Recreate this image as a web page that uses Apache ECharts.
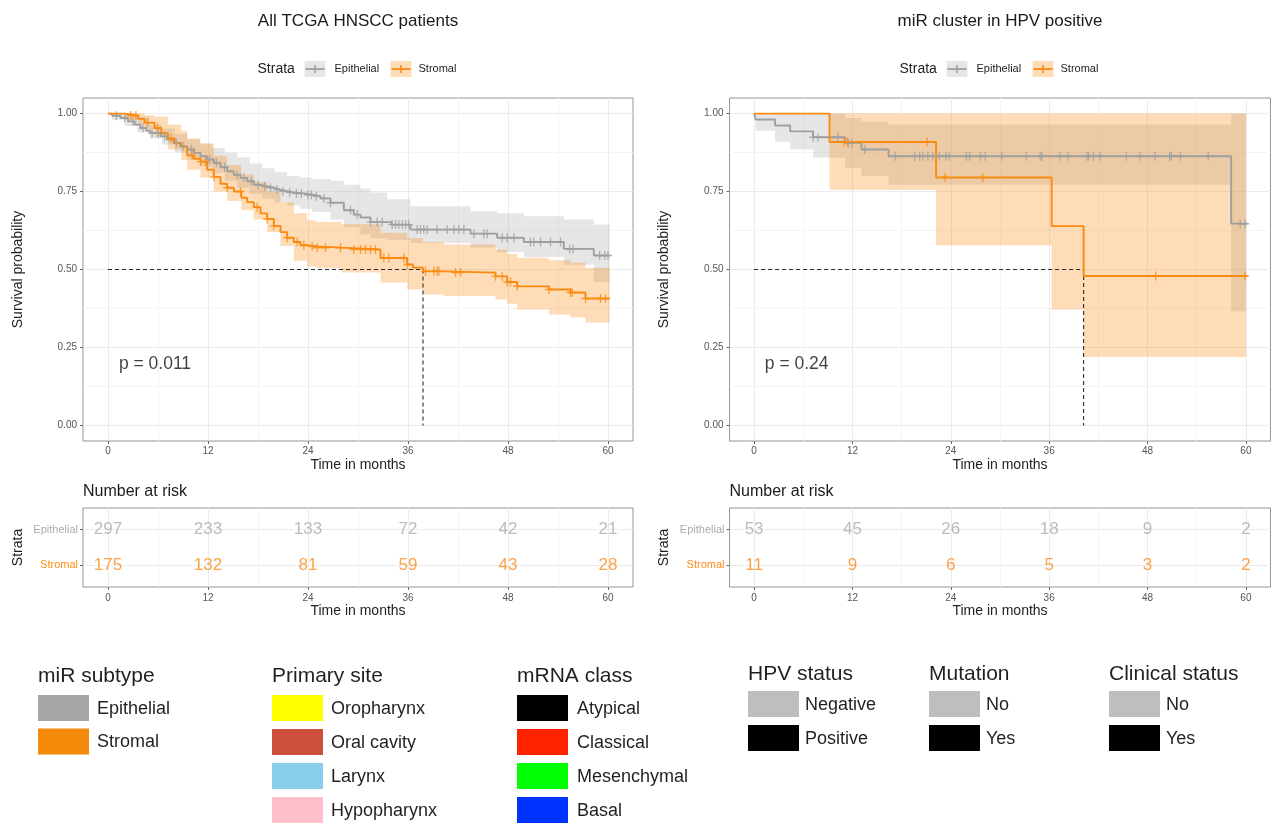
<!DOCTYPE html>
<html><head><meta charset="utf-8">
<script src="https://cdn.jsdelivr.net/npm/echarts@6/dist/echarts.min.js"></script>
<style>html,body{margin:0;padding:0;background:#fff}#c{width:1280px;height:823px}</style>
</head><body><div id="c"></div>
<script>
// ---------------- DATA ----------------
const timeTicks = [0, 12, 24, 36, 48, 60];
const minorTimeTicks = [6, 18, 30, 42, 54];
const survTicks = [0, 0.25, 0.5, 0.75, 1];
const minorSurvTicks = [0.125, 0.375, 0.625, 0.875];
const strata = ['Epithelial', 'Stromal'];
const panelTitles = ['All TCGA HNSCC patients', 'miR cluster in HPV positive'];
const pValues = ['p = 0.011', 'p = 0.24'];

// Panel 1: All TCGA HNSCC patients  [time, survival]
const epiCurveAll = [[0,1],[0.5,0.993],[1.5,0.986],[2.4,0.975],[3.2,0.965],[3.9,0.954],[4.6,0.945],[5.1,0.938],[6.3,0.927],[7.1,0.917],[7.9,0.906],[8.7,0.895],[9.5,0.885],[10.3,0.874],[11.1,0.863],[11.9,0.853],[12.7,0.842],[13.5,0.828],[14.3,0.815],[15.1,0.804],[15.9,0.794],[16.7,0.783],[17.5,0.772],[18.3,0.766],[19.1,0.762],[20.0,0.756],[20.7,0.751],[21.5,0.747],[22.3,0.744],[23.5,0.739],[24.7,0.735],[25.5,0.728],[26.7,0.714],[28.3,0.69],[29.5,0.676],[30.3,0.667],[31.5,0.652],[34.0,0.644],[36.3,0.628],[43.5,0.615],[46.7,0.602],[49.9,0.588],[54.7,0.566],[58.3,0.545],[60.2,0.545]];
// [time, lower, upper]
const epiBandAll = [[0,1,1],[0.5,0.98,1],[2.0,0.96,0.998],[3.5,0.94,0.99],[5.0,0.92,0.965],[6.5,0.9,0.952],[8.0,0.875,0.935],[9.5,0.852,0.918],[11.0,0.83,0.902],[12.5,0.81,0.89],[14.0,0.785,0.875],[15.5,0.762,0.86],[17.0,0.742,0.84],[18.5,0.727,0.825],[20.0,0.715,0.812],[21.5,0.705,0.8],[23.0,0.695,0.795],[24.5,0.685,0.79],[26.7,0.66,0.785],[28.3,0.635,0.772],[30.3,0.612,0.76],[31.5,0.6,0.747],[33.5,0.595,0.725],[36.3,0.585,0.703],[43.5,0.57,0.687],[46.7,0.555,0.68],[49.9,0.54,0.671],[54.7,0.515,0.66],[58.3,0.46,0.644],[60.2,0.46,0.644]];
const epiCensorAll = [1.0,2.0,3.0,4.2,5.3,6.0,6.8,8.2,9.0,10.0,12.2,13.0,14.0,15.5,16.3,17.2,18.0,18.8,19.5,20.3,21.0,21.8,22.6,23.2,24.0,24.4,25.0,25.9,26.7,29.1,29.9,31.5,32.3,32.9,34.1,34.5,34.9,35.3,35.7,36.1,37.1,37.5,37.9,38.3,39.5,40.7,41.5,42.1,42.7,43.9,45.1,45.5,47.3,47.9,48.7,50.7,51.1,51.9,53.1,54.3,55.4,55.8,59.0,59.6,60.0];
const stroCurveAll = [[0,1],[2.0,0.994],[3.6,0.983],[4.4,0.971],[5.6,0.954],[6.4,0.937],[7.2,0.92],[8.0,0.905],[8.8,0.894],[9.5,0.866],[10.3,0.855],[11.1,0.846],[11.9,0.82],[12.7,0.797],[13.5,0.775],[14.3,0.762],[15.1,0.75],[16.0,0.73],[16.7,0.716],[17.5,0.7],[18.3,0.68],[19.1,0.662],[19.9,0.64],[20.7,0.62],[21.5,0.602],[22.3,0.588],[23.1,0.578],[23.9,0.574],[25.0,0.57],[28.0,0.564],[32.7,0.537],[35.9,0.516],[36.6,0.506],[37.8,0.494],[40.3,0.49],[46.5,0.478],[47.9,0.46],[49.1,0.446],[52.9,0.436],[55.5,0.426],[57.3,0.407],[60.2,0.407]];
const stroBandAll = [[0,1,1],[2.0,0.98,1],[3.6,0.965,1],[4.4,0.95,0.995],[5.6,0.925,0.99],[7.2,0.885,0.965],[8.8,0.85,0.945],[9.5,0.82,0.92],[11.1,0.795,0.905],[12.7,0.75,0.865],[14.3,0.72,0.835],[16.0,0.69,0.805],[17.5,0.66,0.78],[19.1,0.62,0.75],[20.7,0.575,0.715],[22.3,0.528,0.68],[23.9,0.51,0.658],[25.0,0.505,0.652],[28.0,0.49,0.645],[32.7,0.458,0.618],[35.9,0.437,0.6],[37.8,0.42,0.588],[40.3,0.415,0.58],[46.5,0.404,0.564],[47.9,0.39,0.55],[49.1,0.372,0.538],[52.9,0.356,0.53],[55.5,0.346,0.522],[57.3,0.33,0.506],[60.2,0.33,0.506]];
const stroCensorAll = [2.75,3.35,4.75,5.95,7.55,10.1,11.1,11.7,12.7,14.3,15.9,17.9,19.1,19.9,21.5,22.7,23.5,24.5,25.1,26.1,27.9,29.5,30.3,30.9,31.5,32.1,33.1,33.7,35.5,35.9,38.1,39.1,39.5,39.7,41.7,42.3,46.5,47.3,47.9,48.3,49.1,52.9,55.5,55.7,57.3,59.1,59.7];
const medianAll = 37.8;
const riskEpiAll = [297, 233, 133, 72, 42, 21];
const riskStroAll = [175, 132, 81, 59, 43, 28];

// Panel 2: miR cluster in HPV positive
const epiCurveHpv = [[0,1],[0.2,0.981],[2.56,0.962],[4.4,0.943],[7.2,0.924],[11.1,0.906],[13.1,0.885],[16.4,0.863],[58.2,0.647],[60.2,0.647]];
const epiBandHpv = [[0,1,1],[0.2,0.945,1],[2.56,0.91,1],[4.4,0.885,1],[7.2,0.858,1],[11.1,0.826,0.986],[13.1,0.8,0.975],[16.4,0.772,0.965],[58.2,0.366,1],[60.0,0.366,1]];
const epiCensorHpv = [7.2,7.8,10.2,11.5,11.9,13.5,17.2,19.6,20.2,20.6,21.2,21.8,22.6,23.4,23.8,25.9,26.3,27.6,28.2,30.2,33.2,34.9,35.1,37.3,38.3,40.6,40.8,41.4,42.2,45.4,47.1,48.9,50.7,50.9,52.0,55.4,59.3,59.9];
const stroCurveHpv = [[0,1],[9.2,0.909],[22.2,0.795],[36.3,0.639],[40.2,0.479],[60.2,0.479]];
const stroBandHpv = [[0,1,1],[9.2,0.756,1],[22.2,0.578,1],[36.3,0.372,1],[40.2,0.219,1],[60.0,0.219,1]];
const stroCensorHpv = [11.0,11.4,21.1,23.3,27.9,49.0,59.9];
const medianHpv = 40.2;
const riskEpiHpv = [53, 45, 26, 18, 9, 2];
const riskStroHpv = [11, 9, 6, 5, 3, 2];

// Bottom annotation legends
const mirSubtypeLabels = ['Epithelial', 'Stromal'];
const mirSubtypeColors = ['#a6a6a6', '#f58a0b'];
const primarySiteLabels = ['Oropharynx', 'Oral cavity', 'Larynx', 'Hypopharynx'];
const primarySiteColors = ['#ffff00', '#cd4f3b', '#87ceeb', '#ffc0cb'];
const mrnaClassLabels = ['Atypical', 'Classical', 'Mesenchymal', 'Basal'];
const mrnaClassColors = ['#000000', '#ff2200', '#00ff00', '#0033ff'];
const hpvLabels = ['Negative', 'Positive'];
const hpvColors = ['#bebebe', '#000000'];
const mutationLabels = ['No', 'Yes'];
const mutationColors = ['#bebebe', '#000000'];
const clinicalLabels = ['No', 'Yes'];
const clinicalColors = ['#bebebe', '#000000'];

// ---------------- STYLE ----------------
const FONT = 'Liberation Sans, Arial, sans-serif';
const GRAY = '#9f9f9f', ORANGE = '#fa8b10';
const GRAY_BAND = 'rgba(173,173,173,0.3)', ORANGE_BAND = 'rgba(248,138,18,0.3)';
const RISK_GRAY = '#ababab', RISK_ORANGE = '#fb8c16';

function stepAt(curve, t) {
  let v = curve[0][1];
  for (const p of curve) { if (p[0] <= t) v = p[1]; else break; }
  return v;
}
const plusPath = 'path://M4.2,0H5.8V4.2H10V5.8H5.8V10H4.2V5.8H0V4.2H4.2Z';

function bandRenderer(band, fill) {
  return function (params, api) {
    if (params.dataIndex !== 0) return {type: 'group', children: []};
    const pts = [];
    for (let i = 0; i < band.length - 1; i++) {
      pts.push(api.coord([band[i][0], band[i][2]]));
      pts.push(api.coord([band[i + 1][0], band[i][2]]));
    }
    for (let i = band.length - 2; i >= 0; i--) {
      pts.push(api.coord([band[i + 1][0], band[i][1]]));
      pts.push(api.coord([band[i][0], band[i][1]]));
    }
    return {type: 'polygon', shape: {points: pts}, style: {fill: fill, stroke: null}};
  };
}

const panels = [
  {grid: {left: 83, top: 98, width: 550, height: 343}, rgrid: {left: 83, top: 508, width: 550, height: 79},
   epi: epiCurveAll, epiBand: epiBandAll, epiC: epiCensorAll, stro: stroCurveAll, stroBand: stroBandAll, stroC: stroCensorAll,
   median: medianAll, riskE: riskEpiAll, riskS: riskStroAll, p: pValues[0], title: panelTitles[0]},
  {grid: {left: 729.5, top: 98, width: 541, height: 343}, rgrid: {left: 729.5, top: 508, width: 541, height: 79},
   epi: epiCurveHpv, epiBand: epiBandHpv, epiC: epiCensorHpv, stro: stroCurveHpv, stroBand: stroBandHpv, stroC: stroCensorHpv,
   median: medianHpv, riskE: riskEpiHpv, riskS: riskStroHpv, p: pValues[1], title: panelTitles[1]}
];

const grids = [], xAxes = [], yAxes = [], series = [], graphics = [];
const axisLabelStyle = {color: '#555', fontSize: 10, fontFamily: FONT};
const noLine = {show: false, onZero: false};

panels.forEach((P, pi) => {
  const gKM = grids.length;
  grids.push(Object.assign({show: true, borderColor: '#949494', borderWidth: 1, containLabel: false}, P.grid));
  const gR = grids.length;
  grids.push(Object.assign({show: true, borderColor: '#949494', borderWidth: 1, containLabel: false}, P.rgrid));

  const xMain = xAxes.length;
  xAxes.push({type: 'value', gridIndex: gKM, position: 'bottom', min: -3, max: 63,
    axisLine: noLine, axisTick: {show: true, length: 3, customValues: timeTicks, lineStyle: {color: '#666'}},
    axisLabel: Object.assign({customValues: timeTicks, margin: 5}, axisLabelStyle),
    splitLine: {show: true, lineStyle: {color: '#ebebeb', width: 1}},
    name: 'Time in months', nameLocation: 'middle', nameGap: 17,
    nameTextStyle: {fontSize: 14, color: '#222', fontFamily: FONT, verticalAlign: 'top'}});
  xAxes.push({type: 'value', gridIndex: gKM, position: 'top', min: -3, max: 63,
    axisLine: noLine, axisTick: {show: false, customValues: minorTimeTicks}, axisLabel: {show: false, customValues: minorTimeTicks},
    splitLine: {show: true, lineStyle: {color: '#f5f5f5', width: 1}}});
  const xRisk = xAxes.length;
  xAxes.push({type: 'value', gridIndex: gR, position: 'bottom', min: -3, max: 63,
    axisLine: noLine, axisTick: {show: true, length: 3, customValues: timeTicks, lineStyle: {color: '#666'}},
    axisLabel: Object.assign({customValues: timeTicks, margin: 6}, axisLabelStyle),
    splitLine: {show: true, lineStyle: {color: '#ebebeb', width: 1}},
    name: 'Time in months', nameLocation: 'middle', nameGap: 17,
    nameTextStyle: {fontSize: 14, color: '#222', fontFamily: FONT, verticalAlign: 'top'}});
  xAxes.push({type: 'value', gridIndex: gR, position: 'top', min: -3, max: 63,
    axisLine: noLine, axisTick: {show: false, customValues: minorTimeTicks}, axisLabel: {show: false, customValues: minorTimeTicks},
    splitLine: {show: true, lineStyle: {color: '#f5f5f5', width: 1}}});

  const yMain = yAxes.length;
  yAxes.push({type: 'value', gridIndex: gKM, position: 'left', min: -0.05, max: 1.05,
    axisLine: noLine, axisTick: {show: true, length: 3, customValues: survTicks, lineStyle: {color: '#666'}},
    axisLabel: Object.assign({customValues: survTicks, margin: 6, formatter: v => Number(v).toFixed(2)}, axisLabelStyle),
    splitLine: {show: true, lineStyle: {color: '#ebebeb', width: 1}},
    name: 'Survival probability', nameLocation: 'middle', nameGap: 58,
    nameTextStyle: {fontSize: 14, color: '#222', fontFamily: FONT}});
  yAxes.push({type: 'value', gridIndex: gKM, position: 'right', min: -0.05, max: 1.05,
    axisLine: noLine, axisTick: {show: false, customValues: minorSurvTicks}, axisLabel: {show: false, customValues: minorSurvTicks},
    splitLine: {show: true, lineStyle: {color: '#f5f5f5', width: 1}}});
  const yRisk = yAxes.length;
  yAxes.push({type: 'value', gridIndex: gR, position: 'left', min: -0.6, max: 1.6,
    axisLine: noLine, axisTick: {show: true, length: 3, customValues: [0, 1], lineStyle: {color: '#666'}},
    axisLabel: {customValues: [0, 1], margin: 5, fontSize: 11, fontFamily: FONT,
      formatter: v => (v == 1 ? strata[0] : strata[1]),
      color: v => (v == 1 ? RISK_GRAY : RISK_ORANGE)},
    splitLine: {show: true, lineStyle: {color: '#ebebeb', width: 1}},
    name: 'Strata', nameLocation: 'middle', nameGap: 58,
    nameTextStyle: {fontSize: 14, color: '#222', fontFamily: FONT}});

  const ax = {xAxisIndex: xMain, yAxisIndex: yMain};
  // confidence bands
  [[P.epiBand, GRAY_BAND], [P.stroBand, ORANGE_BAND]].forEach(([band, col]) => {
    series.push(Object.assign({type: 'custom', silent: true, z: 2, renderItem: bandRenderer(band, col),
      encode: {x: 0, y: [1, 2]}, data: band}, ax));
  });
  // median dashed
  series.push(Object.assign({type: 'line', silent: true, symbol: 'none', z: 3,
    lineStyle: {color: '#2b2b2b', width: 1.1, type: [4, 3]},
    data: [[0, 0.5], [P.median, 0.5], [P.median, 0]]}, ax));
  // survival curves
  [[P.epi, GRAY], [P.stro, ORANGE]].forEach(([c, col]) => {
    series.push(Object.assign({type: 'line', step: 'end', symbol: 'none', z: 4, silent: true,
      lineStyle: {color: col, width: 1.9}, data: c}, ax));
  });
  // censor marks
  [[P.epiC, P.epi, GRAY], [P.stroC, P.stro, ORANGE]].forEach(([cs, c, col]) => {
    series.push(Object.assign({type: 'scatter', symbol: plusPath, symbolSize: [8, 9], z: 5, silent: true,
      itemStyle: {color: col}, data: cs.map(t => [t, stepAt(c, t)])}, ax));
  });
  // p value
  series.push(Object.assign({type: 'scatter', symbolSize: 0.1, silent: true, itemStyle: {color: 'rgba(0,0,0,0)'}, z: 6,
    label: {show: true, position: 'right', distance: 0, formatter: P.p, fontSize: 17.5, color: '#111', fontFamily: FONT},
    data: [[1.3, 0.195]]}, ax));
  // risk table
  [[P.riskE, 1, RISK_GRAY], [P.riskS, 0, RISK_ORANGE]].forEach(([vals, row, col]) => {
    series.push({type: 'scatter', xAxisIndex: xRisk, yAxisIndex: yRisk, symbolSize: 0.1, silent: true,
      itemStyle: {color: 'rgba(0,0,0,0)'},
      label: {show: true, position: 'inside', formatter: p => String(p.value[2]), fontSize: 17, color: col, fontFamily: FONT},
      data: vals.map((v, i) => [timeTicks[i], row, v])});
  });

  // titles & strata legend & risk caption (text)
  const cx = P.grid.left + P.grid.width / 2;
  graphics.push({type: 'text', x: cx, y: 21, style: {text: P.title, font: '17px ' + FONT, fill: '#1a1a1a', align: 'center', verticalAlign: 'middle'}});
  const lx = cx - 100.5;
  graphics.push({type: 'text', x: lx, y: 69, style: {text: 'Strata', font: '14px ' + FONT, fill: '#222', verticalAlign: 'middle'}});
  [[GRAY_BAND, GRAY, 47, strata[0], 77], [ORANGE_BAND, ORANGE, 133, strata[1], 161]].forEach(([bf, lc, kx, txt, tx]) => {
    graphics.push({type: 'rect', shape: {x: lx + kx, y: 61, width: 21, height: 16}, style: {fill: bf}});
    graphics.push({type: 'line', shape: {x1: lx + kx + 1, y1: 69, x2: lx + kx + 20, y2: 69}, style: {stroke: lc, lineWidth: 1.8}});
    graphics.push({type: 'line', shape: {x1: lx + kx + 10.5, y1: 65, x2: lx + kx + 10.5, y2: 73}, style: {stroke: lc, lineWidth: 1.5}});
    graphics.push({type: 'text', x: lx + tx, y: 69, style: {text: txt, font: '11px ' + FONT, fill: '#222', verticalAlign: 'middle'}});
  });
  graphics.push({type: 'text', x: P.rgrid.left, y: 492, style: {text: 'Number at risk', font: '16px ' + FONT, fill: '#1a1a1a', verticalAlign: 'middle'}});
});

// bottom legends
const legendGroups = [
  [mirSubtypeLabels, mirSubtypeColors, 'miR subtype'],
  [primarySiteLabels, primarySiteColors, 'Primary site'],
  [mrnaClassLabels, mrnaClassColors, 'mRNA class'],
  [hpvLabels, hpvColors, 'HPV status'],
  [mutationLabels, mutationColors, 'Mutation'],
  [clinicalLabels, clinicalColors, 'Clinical status']
];
const legendLayout = [
  {x: 38, ty: 676, by: 695, step: 33.5, dx: 59},
  {x: 272, ty: 676, by: 695, step: 34, dx: 59},
  {x: 517, ty: 676, by: 695, step: 34, dx: 60},
  {x: 748, ty: 674, by: 691, step: 34, dx: 57},
  {x: 929, ty: 674, by: 691, step: 34, dx: 57},
  {x: 1109, ty: 674, by: 691, step: 34, dx: 57}
];
legendGroups.forEach(([labels, colors, title], gi) => {
  const L = legendLayout[gi];
  graphics.push({type: 'text', x: L.x, y: L.ty, style: {text: title, font: '21px ' + FONT, fill: '#231f20', verticalAlign: 'middle'}});
  labels.forEach((lab, i) => {
    const y = L.by + i * L.step;
    graphics.push({type: 'rect', shape: {x: L.x, y: y, width: 51, height: 26}, style: {fill: colors[i]}});
    graphics.push({type: 'text', x: L.x + L.dx, y: y + 14, style: {text: lab, font: '18px ' + FONT, fill: '#231f20', verticalAlign: 'middle'}});
  });
});

const chart = echarts.init(document.getElementById('c'), null, {renderer: 'canvas'});
chart.setOption({
  backgroundColor: '#ffffff',
  animation: false,
  grid: grids, xAxis: xAxes, yAxis: yAxes, series: series,
  graphic: graphics
});
</script></body></html>
